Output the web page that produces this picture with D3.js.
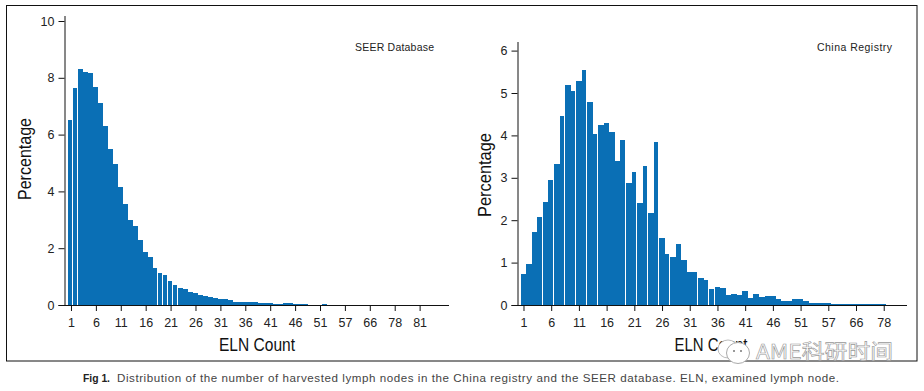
<!DOCTYPE html>
<html><head><meta charset="utf-8">
<script src="https://cdn.jsdelivr.net/npm/d3@7/dist/d3.min.js"></script>
<style>html,body{margin:0;padding:0;background:#fff}svg{display:block}</style></head>
<body><svg id="c" width="924" height="391"></svg>
<script>
const seerValues=[6.52,7.65,8.32,8.22,8.18,7.68,7.12,6.32,5.5,4.97,4.15,3.55,3.0,2.78,2.3,1.85,1.68,1.3,1.12,1.05,.83,.7,.6,.55,.47,.42,.36,.3,.28,.23,.2,.22,.16,.12,.12,.12,.1,.09,.08,.07,.06,.04,.05,.07,.06,.05,.04,.03,0,0,0,.05];
const chinaValues=[.73,.97,1.73,2.07,2.43,2.95,3.32,4.46,5.19,5.05,5.28,5.54,4.79,4.03,4.25,4.29,4.08,3.4,3.89,2.88,3.14,2.41,3.28,2.17,3.84,1.58,1.2,1.13,1.44,1.07,.78,.78,.64,.6,.37,.42,.4,.24,.26,.23,.32,.17,.25,.18,.21,.21,.14,.1,.1,.14,.14,.09,.05,.05,.05,.05,.02,.02,.02,.02,.02,.02,.02,.02,.02,.02];
const seerTickLabels=["1","6","11","16","21","26","31","36","41","46","51","57","66","78","81"];
const chinaTickLabels=["1","6","11","16","21","26","31","36","41","46","51","57","66","78"];
const seerSeams=[0,1,17,18,19,20,21];
const chinaSeams=[3,5,7,9,11,13,18,20,22,24,26,31,33,34];
const seerYTicks=[0,2,4,6,8,10];
const chinaYTicks=[0,1,2,3,4,5,6];
const tickStep=5;

const svg=d3.select("#c");
const BLUE="#0a6fb5";
const TICKFONT="'Liberation Sans',Arial,sans-serif";

svg.append("rect").attr("x",6.5).attr("y",5.5).attr("width",910.5).attr("height",355.5)
  .attr("fill","#fff").attr("stroke","#111").attr("stroke-width",1);

function panel(o){
  const g=svg.append("g");
  const x=d3.scaleLinear().domain(o.xDomain).range([o.left,o.right]);
  const y=d3.scaleLinear().domain([0,o.yMax]).range([o.bottom,o.yTop]);
  const seams=new Set(o.seams);
  g.append("g").attr("shape-rendering","crispEdges").selectAll("rect").data(o.values).join("rect")
    .attr("x",(d,i)=>Math.round(x(i-.5)))
    .attr("width",(d,i)=>Math.round(x(i+.5))-Math.round(x(i-.5))-(seams.has(i)?1:0))
    .attr("y",d=>y(d)).attr("height",d=>y(0)-y(d))
    .attr("fill",BLUE);
  const tickIdx=o.tickLabels.map((d,i)=>i*tickStep);
  const ax=d3.axisBottom(x).tickValues(tickIdx).tickFormat((d,i)=>o.tickLabels[i]).tickSize(6).tickPadding(7).tickSizeOuter(0);
  const ay=d3.axisLeft(y).tickValues(o.yTicks).tickFormat(d3.format("d")).tickSize(6).tickPadding(4).tickSizeOuter(0);
  const gx=g.append("g").attr("transform",`translate(0,${o.bottom})`).call(ax);
  const gy=g.append("g").attr("transform",`translate(${o.left},0)`).call(ay);
  [gx,gy].forEach(a=>{
    a.selectAll("text").attr("font-family",TICKFONT).attr("font-size",12.5).attr("fill","#222");
    a.selectAll("line,path").attr("stroke","#111").attr("stroke-width",1);
  });
  gx.select(".domain").attr("d",`M${o.left-6},0.5H${o.right}`);
  gy.select(".domain").attr("d",`M0.5,${o.bottom}V${o.axisTop}`);
  g.append("text").attr("x",o.xTitleX).attr("y",351).attr("text-anchor","middle")
    .attr("font-family",TICKFONT).attr("font-size",19).attr("fill","#111")
    .attr("textLength",o.xTitleLen).attr("lengthAdjust","spacingAndGlyphs").text("ELN Count");
  g.append("text").attr("transform",`translate(${o.yTitleX},${o.yTitleY}) rotate(-90)`).attr("text-anchor","middle")
    .attr("font-family",TICKFONT).attr("font-size",19).attr("fill","#111")
    .attr("textLength",o.yTitleLen).attr("lengthAdjust","spacingAndGlyphs").text("Percentage");
  g.append("text").attr("x",o.noteX).attr("y",51).attr("text-anchor","middle")
    .attr("font-family",TICKFONT).attr("font-size",10.5).attr("fill","#222")
    .attr("textLength",o.noteLen).text(o.note);
}
panel({values:seerValues,seams:seerSeams,tickLabels:seerTickLabels,yTicks:seerYTicks,yMax:10,axisTop:16,
  left:64.5,right:449,bottom:305,yTop:21,xDomain:[-1.3,75.9],xTitleX:257,xTitleLen:76,yTitleX:31,yTitleY:159,yTitleLen:82,noteX:394.5,noteLen:79,note:"SEER Database"});
panel({values:chinaValues,seams:chinaSeams,tickLabels:chinaTickLabels,yTicks:chinaYTicks,yMax:6,axisTop:42,
  left:517.5,right:907,bottom:305,yTop:50.6,xDomain:[-1.08,69.2],xTitleX:711,xTitleLen:73,yTitleX:491,yTitleY:175,yTitleLen:84,noteX:854.5,noteLen:75,note:"China Registry"});

svg.append("text").attr("x",83).attr("y",382).attr("font-family",TICKFONT).attr("font-size",10.5)
  .attr("font-weight","bold").attr("fill","#222").attr("textLength",27).attr("lengthAdjust","spacingAndGlyphs").text("Fig 1.");
svg.append("text").attr("x",117).attr("y",382).attr("font-family",TICKFONT).attr("font-size",11.6).attr("fill","#444")
  .attr("textLength",722).text("Distribution of the number of harvested lymph nodes in the China registry and the SEER database. ELN, examined lymph node.");

// watermark
const wm=svg.append("g");
wm.append("ellipse").attr("cx",728).attr("cy",349).attr("rx",10).attr("ry",9).attr("fill","#fff").attr("stroke","#bbb");
wm.append("ellipse").attr("cx",738).attr("cy",353).attr("rx",11.5).attr("ry",10.5).attr("fill","#fff").attr("stroke","#aaa");
wm.selectAll("circle").data([734,741]).join("circle").attr("cx",d=>d).attr("cy",351).attr("r",1).attr("fill","#777");
wm.append("text").attr("x",756).attr("y",358.5).attr("font-family","'Noto Sans CJK SC','Liberation Sans',sans-serif")
  .attr("font-size",20).attr("fill","#fff").attr("stroke","#999").attr("stroke-width",.6).attr("textLength",137).attr("lengthAdjust","spacingAndGlyphs").text("AME科研时间");
</script></body></html>
